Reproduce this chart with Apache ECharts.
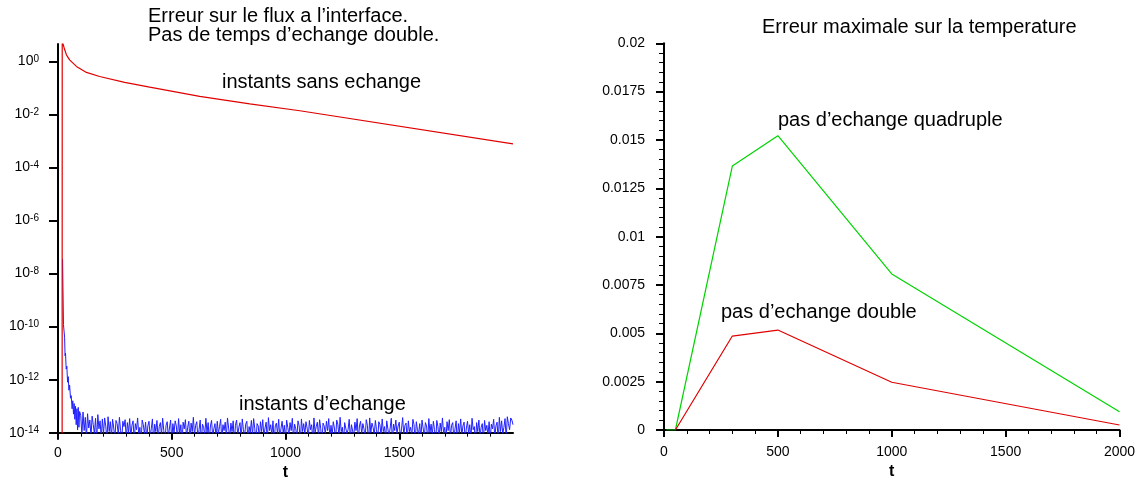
<!DOCTYPE html>
<html><head><meta charset="utf-8">
<script src="https://cdn.jsdelivr.net/npm/echarts@6/dist/echarts.min.js"></script>
<style>html,body{margin:0;padding:0;background:#fff}#c{width:1141px;height:477px}</style>
</head><body><div id="c"></div>
<script>
const FONT = '"Liberation Sans", Arial, Helvetica, sans-serif';

// ---------- Left panel: flux error (log scale) ----------
const fluxXTicks = [0, 500, 1000, 1500];
// "instants sans echange" (red)
const sansEchangeT   = [18, 18.6, 22, 29.5, 37, 51, 81, 125, 183, 293, 403, 623, 843, 1063, 2000];
const sansEchangeErr = [1e-20, 1e3, 4.6, 2.75, 1.78, 1.15, 0.65, 0.385, 0.27, 0.162, 0.107, 0.048, 0.025, 0.0138, 0.00078];
// "instants d'echange" (blue) : initial decay
const echangeDecayT   = [20, 24, 27, 29, 31, 33, 36, 39, 42, 45, 48, 51, 55, 58, 62, 65, 68, 71, 74, 77, 80, 83, 86, 89, 92, 95];
const echangeDecayErr = [3.5e-8, 1.2e-10, 1.1e-10, 4e-11, 8e-12, 1e-11, 2.5e-12, 3.2e-12, 8e-13, 1.3e-12, 4e-13, 6.3e-13,
  2e-13, 2.5e-13, 8e-14, 1.6e-13, 5e-14, 1.26e-13, 3.2e-14, 1e-13, 2e-14, 8e-14, 1.26e-14, 9e-14, 1.6e-14, 6.3e-14];
// blue noise floor, sampled every 5 time units from t = 100 to 2000, values in units of 1e-15
const echangeNoiseStartT = 100;
const echangeNoiseStepT = 5;
const echangeNoise1e15 = [
  45,8,60,12,38,6,52,15,30,7,42,20,9,35,5,48,14,28,6,33,
  9,36,18,5,40,11,26,7,32,15,6,29,22,8,38,12,5,27,17,31,
  6,24,10,34,7,19,28,5,22,13,36,8,16,4,30,20,9,25,6,18,
  27,7,14,33,5,21,11,29,6,17,24,8,35,12,4,19,26,7,15,30,
  5,22,10,28,18,6,34,9,20,4,25,14,31,7,16,27,5,23,11,38,
  8,19,26,6,13,30,4,21,16,8,35,10,24,5,18,29,7,14,22,6,
  27,9,17,32,5,20,12,25,7,36,15,6,23,11,28,4,19,30,8,16,
  24,6,33,13,7,21,27,5,17,10,29,8,34,14,4,22,18,6,26,11,
  31,7,15,25,5,37,12,20,8,28,4,18,23,9,32,6,14,27,10,19,
  5,30,16,8,24,12,35,6,21,14,7,28,18,4,33,11,22,9,26,15,
  6,29,13,20,5,36,10,17,25,7,31,14,4,23,18,9,27,12,34,6,
  19,8,26,15,5,30,21,7,38,11,16,4,24,28,9,13,32,6,20,17,
  7,25,12,34,5,18,27,9,22,14,6,31,19,4,36,10,23,16,8,29,
  13,5,26,20,8,33,11,17,6,28,24,7,15,35,5,21,12,30,9,18,
  25,6,14,37,8,19,23,5,28,11,16,7,32,20,4,26,13,9,22,6,
  30,15,7,24,18,5,34,10,21,8,27,13,4,29,17,6,23,11,36,9,
  16,5,26,12,31,7,19,24,6,14,28,4,22,10,33,8,18,25,5,15,
  27,9,20,6,35,13,17,4,24,11,30,7,16,22,5,29,12,19,8,26,
  6,21,14,32,7,18,25,5,38,11,28,9,16,34,6,40,22,13,36,30,
  20
];

// ---------- Right panel: max temperature error ----------
const quadT   = [10, 50, 300, 500, 1000, 2000];
const quadErr = [0, 0, 0.01365, 0.01522, 0.00807, 0.000946];
const doubT   = [50, 300, 500, 1000, 2000];
const doubErr = [0, 0.00486, 0.00517, 0.00247, 0.00026];

// ---------- build ----------
const pairs = (xs, ys) => xs.map((x, i) => [x, ys[i]]);
const blueData = pairs(echangeDecayT, echangeDecayErr).concat(
  echangeNoise1e15.map((v, i) => [echangeNoiseStartT + i * echangeNoiseStepT, v * 1e-15]));

const axisLine = {show: true, lineStyle: {color: '#000', width: 2}};
const lbl = {color: '#000', fontSize: 14, fontFamily: FONT};
const nameStyle = {color: '#000', fontSize: 16, fontWeight: 'bold', fontFamily: FONT};

function txt(x, y, s) {
  return {type: 'text', x: x, y: y, silent: true,
    style: {text: s, fill: '#000', fontSize: 20, fontFamily: FONT,
      align: 'left', verticalAlign: 'middle', textAlign: 'left', textVerticalAlign: 'middle'}};
}

const option = {
  animation: false,
  backgroundColor: '#fff',
  grid: [
    {left: 58, top: 44, width: 455, height: 388.7, outerBoundsMode: 'none', containLabel: false},
    {left: 664, top: 43.3, width: 455.5, height: 386.7, outerBoundsMode: 'none', containLabel: false}
  ],
  xAxis: [
    {gridIndex: 0, type: 'value', min: 0, max: 2000, interval: 500,
     axisLine: axisLine,
     axisTick: {show: true, length: 7, lineStyle: {color: '#000', width: 2}, customValues: fluxXTicks},
     minorTick: {show: true, splitNumber: 5, length: 4, lineStyle: {color: '#000', width: 1}},
     axisLabel: Object.assign({margin: 13, customValues: fluxXTicks, formatter: v => String(v)}, lbl),
     splitLine: {show: false}, minorSplitLine: {show: false},
     name: 't', nameLocation: 'middle', nameGap: 28, nameTextStyle: nameStyle},
    {gridIndex: 1, type: 'value', min: 0, max: 2000, interval: 500,
     axisLine: axisLine,
     axisTick: {show: true, length: 7, lineStyle: {color: '#000', width: 2}},
     minorTick: {show: true, splitNumber: 5, length: 4, lineStyle: {color: '#000', width: 1}},
     axisLabel: Object.assign({margin: 15, formatter: v => String(v)}, lbl),
     splitLine: {show: false}, minorSplitLine: {show: false},
     name: 't', nameLocation: 'middle', nameGap: 28, nameTextStyle: nameStyle}
  ],
  yAxis: [
    {gridIndex: 0, type: 'log', logBase: 10, min: 1e-14, max: 4.55, interval: 2,
     axisLine: axisLine,
     axisTick: {show: true, length: 9, lineStyle: {color: '#000', width: 2}},
     minorTick: {show: false},
     axisLabel: {margin: 19, showMaxLabel: false, hideOverlap: false,
       formatter: v => '{b|10}{s|' + Math.round(Math.log10(v)) + '}',
       rich: {b: {fontSize: 14, fontFamily: FONT, color: '#000'},
              s: {fontSize: 10, fontFamily: FONT, color: '#000', verticalAlign: 'top'}}},
     splitLine: {show: false}},
    {gridIndex: 1, type: 'value', min: 0, max: 0.02, interval: 0.0025,
     axisLine: axisLine,
     axisTick: {show: true, length: 8, lineStyle: {color: '#000', width: 2}},
     minorTick: {show: true, splitNumber: 5, length: 5, lineStyle: {color: '#000', width: 1}},
     axisLabel: Object.assign({margin: 19, formatter: v => String(parseFloat(v.toFixed(5)))}, lbl),
     splitLine: {show: false}, minorSplitLine: {show: false}}
  ],
  series: [
    {type: 'line', xAxisIndex: 0, yAxisIndex: 0, data: blueData, showSymbol: false, clip: true,
     lineStyle: {color: '#2020ff', width: 1}, itemStyle: {color: '#2020ff'}},
    {type: 'line', xAxisIndex: 0, yAxisIndex: 0, data: pairs(sansEchangeT, sansEchangeErr), showSymbol: false, clip: true,
     lineStyle: {color: '#e00000', width: 1.2}, itemStyle: {color: '#e00000'}},
    {type: 'line', xAxisIndex: 1, yAxisIndex: 1, data: pairs(quadT, quadErr), showSymbol: false, clip: true,
     lineStyle: {color: '#00d400', width: 1.2}, itemStyle: {color: '#00d400'}},
    {type: 'line', xAxisIndex: 1, yAxisIndex: 1, data: pairs(doubT, doubErr), showSymbol: false, clip: true,
     lineStyle: {color: '#e00000', width: 1.2}, itemStyle: {color: '#e00000'}}
  ],
  graphic: [
    txt(148, 16, 'Erreur sur le flux a l’interface.'),
    txt(148, 35, 'Pas de temps d’echange double.'),
    txt(222, 82, 'instants sans echange'),
    txt(239, 404, 'instants d’echange'),
    txt(762, 27, 'Erreur maximale sur la temperature'),
    txt(778, 120, 'pas d’echange quadruple'),
    txt(721, 312, 'pas d’echange double')
  ]
};

const chart = echarts.init(document.getElementById('c'), null, {renderer: 'canvas'});
chart.setOption(option);
</script>
</body></html>
